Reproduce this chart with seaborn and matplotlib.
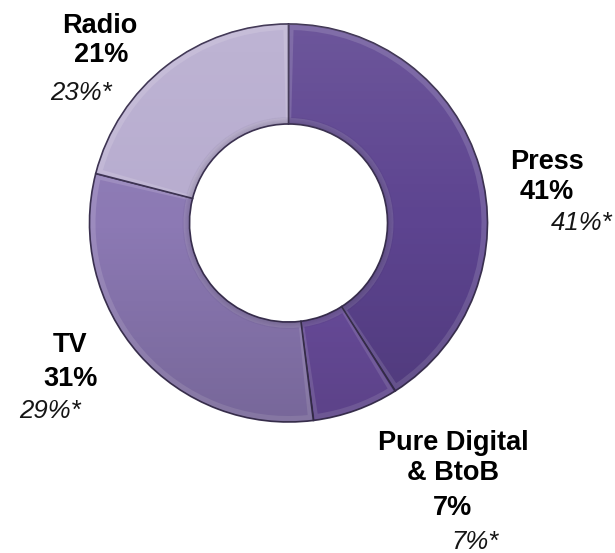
import matplotlib
matplotlib.use("Agg")
import matplotlib.pyplot as plt
import matplotlib.patches as mpatches
import numpy as np
import seaborn as sns

# Media split, current year vs previous year (marked with *)
media = ["Press", "Pure Digital\n& BtoB", "TV", "Radio"]
share = [41, 7, 31, 21]
share_prev = [41, 7, 29, 23]
colors = ["#5d4490", "#6c4ea0", "#8c79b4", "#b7accf"]

sns.set_theme(style="white")
plt.rcParams["font.family"] = ["Liberation Sans", "DejaVu Sans"]

W, H = 615, 553
fig = plt.figure(figsize=(W / 100, H / 100), dpi=100)
ax = fig.add_axes([0, 0, 1, 1])

cx, cy = 288.5, H - 223
R, ring = 199, 100

wedges, _ = ax.pie(
    share, colors=colors, startangle=90, counterclock=False,
    center=(cx, cy), radius=R,
    wedgeprops=dict(width=ring, edgecolor="#3b3150", linewidth=1.2),
)

# gentle vertical light-to-dark shading, clipped to each segment
n = 256
shade = np.zeros((n, 1, 4))
t = np.linspace(0, 1, n)
shade[:, 0, :3] = np.where(t[:, None] < 0.5, 1.0, 0.0)
shade[:, 0, 3] = np.abs(t - 0.5) * 2 * np.where(t < 0.5, 0.10, 0.15)

for w, c in zip(wedges, colors):
    t1, t2 = w.theta1, w.theta2
    # outer bevel highlight
    rim = mpatches.Wedge((cx, cy), R - 1, t1 + 0.4, t2 - 0.4, width=ring - 2,
                         facecolor="white", alpha=0.14, edgecolor="none", zorder=2)
    ax.add_patch(rim)
    face = mpatches.Wedge((cx, cy), R - 6, t1 + 1.5, t2 - 1.5, width=ring - 12,
                          facecolor=c, edgecolor="none", zorder=3)
    ax.add_patch(face)
    im = ax.imshow(shade, extent=(cx - R, cx + R, cy - R, cy + R),
                   origin="upper", aspect="auto", zorder=3.5, interpolation="bilinear")
    im.set_clip_path(w)

# shadow just inside the hole edge
for i in range(7):
    ax.add_patch(mpatches.Wedge(
        (cx, cy), R - ring + 7 - i, 0, 360, width=1,
        facecolor="#2a2040", alpha=0.05 + 0.03 * i, edgecolor="none", zorder=4,
    ))

label_pos = [(547, 162), (453, 441), (70, 345), (100, 26)]
share_pos = [(547, 192), (453, 508), (71, 379), (101, 55)]
prev_pos = [(582, 223), (475, 542), (50, 411), (81, 93)]
name_offsets = {1: 17}  # two-line name: shift the centre down

for i, name in enumerate(media):
    nx, ny = label_pos[i]
    ny = ny + name_offsets.get(i, 0)
    ax.text(nx, H - ny, name, ha="center", va="center", fontsize=19.5,
            fontweight="bold", color="black", linespacing=1.15, zorder=6)
    sx, sy = share_pos[i]
    ax.text(sx, H - sy, f"{share[i]}%", ha="center", va="center",
            fontsize=19.5, fontweight="bold", color="black", zorder=6)
    px, py = prev_pos[i]
    ax.text(px, H - py, f"{share_prev[i]}%*", ha="center", va="center",
            fontsize=18.5, fontstyle="italic", color="#151515", zorder=6)

ax.set_xlim(0, W)
ax.set_ylim(0, H)
ax.set_aspect("equal")
ax.axis("off")
fig.savefig("out.png", dpi=100, facecolor="white")
